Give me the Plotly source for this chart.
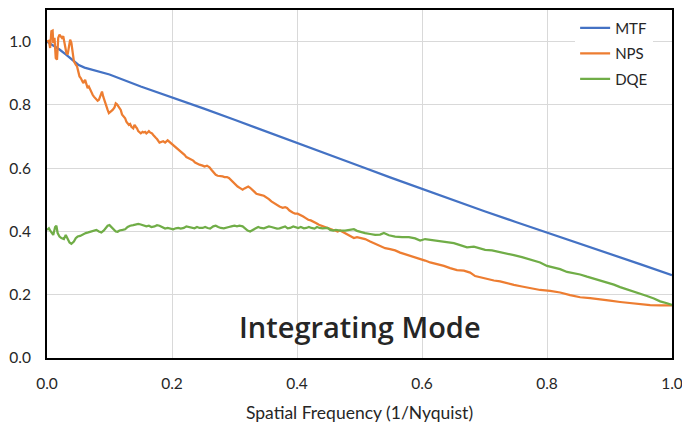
import plotly.graph_objects as go

# ---------------- data ----------------
freq_mtf = [0.00, 0.01, 0.02, 0.03, 0.04, 0.05, 0.06, 0.08, 0.10, 0.15, 0.20, 0.25, 0.30,
            0.35, 0.40, 0.45, 0.50, 0.55, 0.60, 0.65, 0.70, 0.75, 0.80, 0.85, 0.90, 0.95, 1.00]
mtf = [1.000, 0.988, 0.975, 0.960, 0.942, 0.927, 0.918, 0.908, 0.896, 0.858, 0.824, 0.789, 0.753,
       0.717, 0.680, 0.643, 0.607, 0.570, 0.534, 0.499, 0.464, 0.430, 0.397, 0.364, 0.331, 0.296, 0.262]

freq_nps = [0.000, 0.003, 0.005, 0.007, 0.009, 0.010, 0.012, 0.014, 0.016, 0.018, 0.020, 0.022,
            0.024, 0.026, 0.028, 0.031, 0.033, 0.035, 0.037, 0.039, 0.041, 0.043, 0.046, 0.048,
            0.050, 0.052, 0.054, 0.056, 0.058, 0.061, 0.063, 0.065, 0.067, 0.069, 0.071, 0.073,
            0.075, 0.079, 0.081, 0.083, 0.086, 0.088, 0.090, 0.093, 0.095, 0.097, 0.099, 0.101,
            0.103, 0.105, 0.108, 0.110, 0.112, 0.114, 0.116, 0.118, 0.120, 0.123, 0.125, 0.127,
            0.129, 0.131, 0.133, 0.135, 0.138, 0.140, 0.142, 0.144, 0.146, 0.148, 0.150, 0.153,
            0.155, 0.157, 0.159, 0.161, 0.163, 0.165, 0.168, 0.170, 0.172, 0.174, 0.176, 0.178,
            0.180, 0.186, 0.189, 0.193, 0.197, 0.201, 0.204, 0.208, 0.212, 0.217, 0.220, 0.223,
            0.226, 0.230, 0.234, 0.237, 0.240, 0.244, 0.249, 0.252, 0.256, 0.260, 0.263, 0.267,
            0.270, 0.273, 0.276, 0.281, 0.284, 0.288, 0.291, 0.294, 0.298, 0.301, 0.305, 0.309,
            0.313, 0.316, 0.319, 0.322, 0.325, 0.329, 0.332, 0.335, 0.339, 0.343, 0.347, 0.351,
            0.355, 0.359, 0.364, 0.368, 0.372, 0.377, 0.381, 0.384, 0.388, 0.393, 0.397, 0.401,
            0.405, 0.410, 0.414, 0.418, 0.422, 0.427, 0.431, 0.435, 0.439, 0.444, 0.448, 0.452,
            0.457, 0.461, 0.465, 0.469, 0.477, 0.485, 0.491, 0.496, 0.501, 0.509, 0.517, 0.525,
            0.533, 0.541, 0.549, 0.557, 0.565, 0.576, 0.587, 0.597, 0.605, 0.613, 0.624, 0.635,
            0.645, 0.656, 0.667, 0.677, 0.685, 0.693, 0.704, 0.715, 0.725, 0.736, 0.747, 0.760,
            0.773, 0.789, 0.805, 0.821, 0.837, 0.853, 0.869, 0.885, 0.901, 0.917, 0.933, 0.949,
            0.965, 0.981, 1.000]
nps = [1.001, 1.003, 0.980, 1.033, 1.035, 0.996, 1.012, 0.948, 0.943, 1.012, 1.022, 1.017,
       1.012, 1.017, 0.990, 0.964, 0.959, 0.980, 1.006, 0.996, 0.969, 0.938, 0.927, 0.922,
       0.906, 0.890, 0.885, 0.874, 0.869, 0.879, 0.863, 0.853, 0.858, 0.848, 0.842, 0.832,
       0.826, 0.816, 0.813, 0.816, 0.832, 0.842, 0.826, 0.805, 0.795, 0.784, 0.774, 0.777,
       0.781, 0.784, 0.792, 0.805, 0.802, 0.795, 0.789, 0.784, 0.770, 0.763, 0.758, 0.747,
       0.742, 0.737, 0.740, 0.731, 0.726, 0.737, 0.731, 0.726, 0.717, 0.713, 0.710, 0.715,
       0.713, 0.715, 0.710, 0.713, 0.717, 0.713, 0.710, 0.705, 0.699, 0.696, 0.692, 0.686,
       0.681, 0.685, 0.681, 0.688, 0.681, 0.677, 0.671, 0.664, 0.656, 0.648, 0.642, 0.635,
       0.632, 0.629, 0.624, 0.618, 0.614, 0.611, 0.608, 0.605, 0.608, 0.603, 0.595, 0.586,
       0.579, 0.576, 0.576, 0.574, 0.572, 0.572, 0.569, 0.563, 0.555, 0.547, 0.542, 0.537,
       0.532, 0.536, 0.540, 0.542, 0.538, 0.532, 0.525, 0.519, 0.516, 0.515, 0.513, 0.508,
       0.502, 0.495, 0.489, 0.483, 0.479, 0.475, 0.477, 0.474, 0.466, 0.460, 0.456, 0.456,
       0.453, 0.447, 0.442, 0.437, 0.435, 0.431, 0.426, 0.421, 0.418, 0.414, 0.410, 0.407,
       0.405, 0.403, 0.400, 0.403, 0.395, 0.386, 0.379, 0.382, 0.379, 0.376, 0.368, 0.361,
       0.352, 0.347, 0.344, 0.340, 0.333, 0.326, 0.321, 0.315, 0.308, 0.302, 0.297, 0.291,
       0.284, 0.278, 0.276, 0.270, 0.259, 0.255, 0.249, 0.245, 0.242, 0.236, 0.231, 0.226,
       0.220, 0.215, 0.212, 0.207, 0.199, 0.192, 0.189, 0.186, 0.181, 0.177, 0.173, 0.170,
       0.167, 0.166, 0.166]

freq_dqe = [0.000, 0.003, 0.006, 0.010, 0.013, 0.015, 0.017, 0.020, 0.023, 0.027, 0.030, 0.033,
            0.036, 0.039, 0.043, 0.046, 0.049, 0.053, 0.058, 0.062, 0.066, 0.070, 0.075, 0.079,
            0.083, 0.087, 0.091, 0.094, 0.097, 0.100, 0.103, 0.107, 0.110, 0.113, 0.116, 0.121,
            0.125, 0.129, 0.133, 0.138, 0.142, 0.146, 0.150, 0.155, 0.159, 0.163, 0.167, 0.172,
            0.176, 0.180, 0.185, 0.189, 0.193, 0.197, 0.202, 0.206, 0.210, 0.214, 0.219, 0.223,
            0.227, 0.231, 0.236, 0.240, 0.244, 0.249, 0.253, 0.257, 0.261, 0.266, 0.270, 0.274,
            0.278, 0.283, 0.287, 0.291, 0.295, 0.300, 0.304, 0.308, 0.313, 0.317, 0.321, 0.325,
            0.330, 0.334, 0.338, 0.342, 0.347, 0.351, 0.355, 0.359, 0.364, 0.368, 0.372, 0.377,
            0.381, 0.385, 0.389, 0.394, 0.398, 0.402, 0.406, 0.411, 0.415, 0.419, 0.423, 0.428,
            0.432, 0.436, 0.441, 0.445, 0.449, 0.453, 0.458, 0.462, 0.466, 0.469, 0.477, 0.485,
            0.491, 0.496, 0.501, 0.509, 0.517, 0.525, 0.533, 0.539, 0.547, 0.557, 0.568, 0.579,
            0.589, 0.597, 0.605, 0.616, 0.627, 0.637, 0.651, 0.661, 0.672, 0.683, 0.691, 0.701,
            0.712, 0.725, 0.736, 0.747, 0.760, 0.773, 0.789, 0.800, 0.811, 0.821, 0.832, 0.843,
            0.853, 0.864, 0.875, 0.885, 0.896, 0.907, 0.917, 0.928, 0.939, 0.949, 0.960, 0.971,
            0.981, 0.992, 1.000]
dqe = [0.405, 0.410, 0.400, 0.389, 0.414, 0.418, 0.395, 0.384, 0.379, 0.376, 0.389, 0.379,
       0.365, 0.361, 0.368, 0.379, 0.384, 0.386, 0.392, 0.395, 0.397, 0.399, 0.403, 0.405,
       0.400, 0.397, 0.403, 0.410, 0.418, 0.420, 0.414, 0.407, 0.400, 0.399, 0.403, 0.405,
       0.407, 0.414, 0.418, 0.420, 0.421, 0.424, 0.422, 0.420, 0.416, 0.418, 0.414, 0.416,
       0.420, 0.418, 0.414, 0.409, 0.411, 0.409, 0.407, 0.410, 0.411, 0.409, 0.411, 0.416,
       0.414, 0.411, 0.410, 0.414, 0.411, 0.411, 0.414, 0.411, 0.409, 0.416, 0.418, 0.414,
       0.411, 0.410, 0.411, 0.414, 0.416, 0.418, 0.416, 0.418, 0.416, 0.409, 0.403, 0.400,
       0.407, 0.410, 0.414, 0.411, 0.410, 0.414, 0.416, 0.414, 0.411, 0.409, 0.410, 0.414,
       0.416, 0.410, 0.411, 0.416, 0.414, 0.411, 0.414, 0.410, 0.411, 0.414, 0.411, 0.409,
       0.414, 0.411, 0.410, 0.410, 0.411, 0.405, 0.403, 0.405, 0.403, 0.403, 0.403, 0.405,
       0.407, 0.402, 0.399, 0.395, 0.392, 0.389, 0.390, 0.395, 0.388, 0.384, 0.382, 0.382,
       0.378, 0.371, 0.376, 0.373, 0.368, 0.366, 0.363, 0.357, 0.350, 0.352, 0.348, 0.342,
       0.340, 0.335, 0.331, 0.325, 0.319, 0.312, 0.302, 0.291, 0.287, 0.281, 0.272, 0.268,
       0.264, 0.257, 0.251, 0.245, 0.238, 0.232, 0.224, 0.217, 0.211, 0.205, 0.196, 0.188,
       0.179, 0.173, 0.168]

x_ticks = [0.0, 0.2, 0.4, 0.6, 0.8, 1.0]
y_ticks = [0.0, 0.2, 0.4, 0.6, 0.8, 1.0]
x_title = "Spatial Frequency (1/Nyquist)"
mode_label = "Integrating Mode"

# ---------------- figure ----------------
LBL = "Lato, 'Open Sans', sans-serif"
fig = go.Figure()
fig.add_trace(go.Scatter(x=freq_mtf, y=mtf, mode="lines", name="MTF", legendgroup="a",
                         line=dict(color="#4472C4", width=2.25)))
fig.add_trace(go.Scatter(x=freq_nps, y=nps, mode="lines", name="NPS", legendgroup="b",
                         line=dict(color="#ED7D31", width=2.25)))
fig.add_trace(go.Scatter(x=freq_dqe, y=dqe, mode="lines", name="DQE", legendgroup="c",
                         line=dict(color="#70AD47", width=2.25)))

fig.update_layout(
    width=682, height=423,
    margin=dict(l=47, r=10, t=10, b=65, autoexpand=False),
    paper_bgcolor="white", plot_bgcolor="white",
    font=dict(family=LBL, size=15.5, color="#262626"),
    showlegend=True,
    legend=dict(x=0.845, y=0.995, xanchor="left", yanchor="top",
                bgcolor="white", borderwidth=0,
                font=dict(family=LBL, size=15, color="#262626"),
                tracegroupgap=3),
    annotations=[dict(text=mode_label, x=0.5, y=0.1, xref="x", yref="y",
                      xanchor="center", yanchor="middle", showarrow=False,
                      font=dict(family="'Open Sans', sans-serif", size=29,
                                color="#262626", weight=600))],
)
fig.update_xaxes(range=[0, 1], tickvals=x_ticks, tickformat=".1f", automargin=False,
                 ticklabeloverflow="allow",
                 showgrid=True, gridcolor="#D9D9D9", gridwidth=1,
                 zeroline=False, showline=True, linecolor="black", linewidth=2,
                 mirror=True, ticks="", ticklabelstandoff=10,
                 title=dict(text=x_title, standoff=17,
                            font=dict(family=LBL, size=17.5, color="#262626")))
fig.update_yaxes(range=[0, 1.1], tickvals=y_ticks, tickformat=".1f", automargin=False,
                 showgrid=True, gridcolor="#D9D9D9", gridwidth=1,
                 zeroline=False, showline=True, linecolor="black", linewidth=2,
                 mirror=True, ticks="", ticklabelstandoff=11)

# remove the browser's default 8px body margin so the figure fills the window exactly
fig.write_html("out.html",
               config={"displayModeBar": False},
               post_script="document.body.style.margin='0';document.body.style.overflow='hidden';")
